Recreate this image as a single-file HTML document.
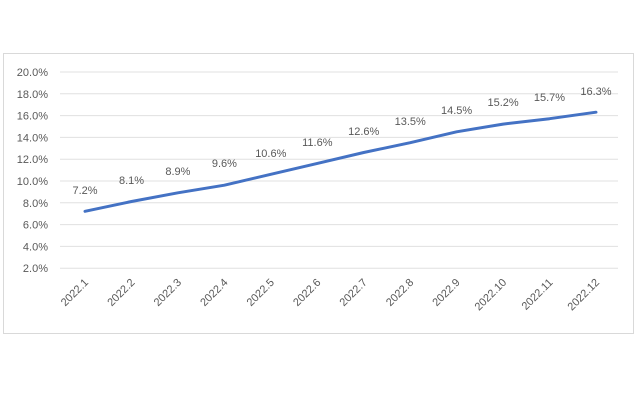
<!DOCTYPE html>
<html><head><style>body{margin:0;background:#fff}</style></head><body>
<svg width="637" height="400" xmlns="http://www.w3.org/2000/svg" font-family="Liberation Sans, sans-serif" font-size="11" fill="#595959">
<rect x="3.5" y="53.5" width="630" height="280" fill="#fff" stroke="#d9d9d9"/>
<g stroke="#e0e0e0" stroke-width="1">
<line x1="60" x2="618" y1="72" y2="72"/><line x1="60" x2="618" y1="93.8" y2="93.8"/><line x1="60" x2="618" y1="115.6" y2="115.6"/><line x1="60" x2="618" y1="137.4" y2="137.4"/><line x1="60" x2="618" y1="159.2" y2="159.2"/><line x1="60" x2="618" y1="181" y2="181"/><line x1="60" x2="618" y1="202.8" y2="202.8"/><line x1="60" x2="618" y1="224.6" y2="224.6"/><line x1="60" x2="618" y1="246.4" y2="246.4"/><line x1="60" x2="618" y1="268.2" y2="268.2"/>
</g>
<g text-anchor="end">
<text x="48" y="76">20.0%</text><text x="48" y="97.8">18.0%</text><text x="48" y="119.6">16.0%</text><text x="48" y="141.4">14.0%</text><text x="48" y="163.2">12.0%</text><text x="48" y="185">10.0%</text><text x="48" y="206.8">8.0%</text><text x="48" y="228.6">6.0%</text><text x="48" y="250.4">4.0%</text><text x="48" y="272.2">2.0%</text>
</g>
<polyline fill="none" stroke="#4472c4" stroke-width="3" stroke-linecap="round" stroke-linejoin="round" points="85,211.3 131.5,201.5 177.9,192.8 224.4,185.2 270.8,174.3 317.3,163.4 363.7,152.5 410.2,142.7 456.6,131.8 503.1,124.1 549.5,118.7 596,112.2"/>
<g text-anchor="middle">
<text x="85" y="194">7.2%</text><text x="131.5" y="184">8.1%</text><text x="177.9" y="175">8.9%</text><text x="224.4" y="167">9.6%</text><text x="270.8" y="157">10.6%</text><text x="317.3" y="146">11.6%</text><text x="363.7" y="135">12.6%</text><text x="410.2" y="125">13.5%</text><text x="456.6" y="114">14.5%</text><text x="503.1" y="106">15.2%</text><text x="549.5" y="101">15.7%</text><text x="596" y="95">16.3%</text>
</g>
<g text-anchor="end">
<text transform="translate(89,283) rotate(-45)">2022.1</text>
<text transform="translate(135.5,283) rotate(-45)">2022.2</text>
<text transform="translate(181.9,283) rotate(-45)">2022.3</text>
<text transform="translate(228.4,283) rotate(-45)">2022.4</text>
<text transform="translate(274.8,283) rotate(-45)">2022.5</text>
<text transform="translate(321.3,283) rotate(-45)">2022.6</text>
<text transform="translate(367.7,283) rotate(-45)">2022.7</text>
<text transform="translate(414.2,283) rotate(-45)">2022.8</text>
<text transform="translate(460.6,283) rotate(-45)">2022.9</text>
<text transform="translate(507.1,283) rotate(-45)">2022.10</text>
<text transform="translate(553.5,283) rotate(-45)">2022.11</text>
<text transform="translate(600,283) rotate(-45)">2022.12</text>
</g>
</svg>
</body></html>
